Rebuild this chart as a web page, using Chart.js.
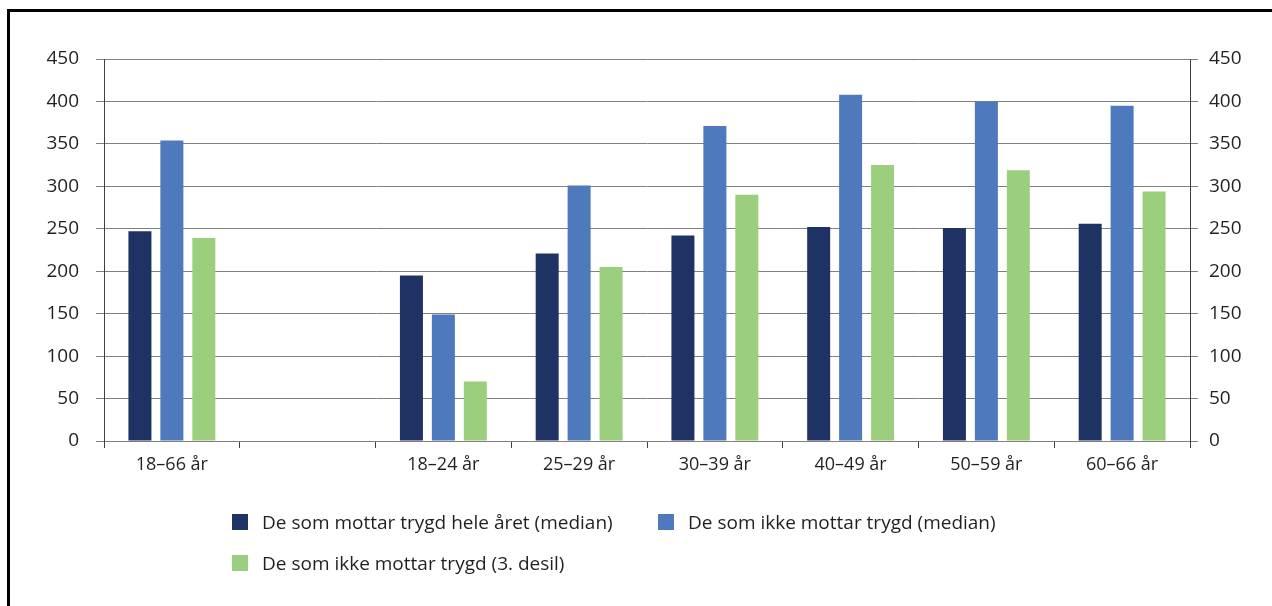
<!DOCTYPE html>
<html>
<head>
<meta charset="utf-8">
<script src="https://cdn.jsdelivr.net/npm/chart.js@4.4.0/dist/chart.umd.min.js"></script>
<style>
  html, body { margin: 0; padding: 0; background: #fff; overflow: hidden; }
  #wrap { position: relative; width: 1272px; height: 606px; }
  #frame { position: absolute; left: 7px; top: 9px; width: 1400px; height: 800px; border-left: 3px solid #000; border-top: 3px solid #000; }
  #chart { position: absolute; left: 0; top: 0; }
  #legend { position: absolute; left: 232px; top: 509px; font-family: "Open Sans", sans-serif; font-size: 19px; color: #231f20; }
  .item { position: absolute; white-space: nowrap; display: flex; align-items: center; }
  .box { width: 16px; height: 16px; margin-right: 14px; }
</style>
</head>
<body>
<div id="wrap">
  <div id="frame"></div>
  <canvas id="chart" width="1272" height="606"></canvas>
  <div id="legend"></div>
</div>
<script>
const kategorier = ["18\u201366 år", "", "18\u201324 år", "25\u201329 år", "30\u201339 år", "40\u201349 år", "50\u201359 år", "60\u201366 år"];
const trygd_median = [247, null, 195, 221, 242, 252, 251, 256];
const ikke_trygd_median = [354, null, 149, 301, 371, 408, 400, 395];
const ikke_trygd_desil = [239, null, 70, 205, 290, 325, 319, 294];
const serier = ["De som mottar trygd hele året (median)", "De som ikke mottar trygd (median)", "De som ikke mottar trygd (3. desil)"];
const farger = ["#1f3264", "#4e79bd", "#9bcf7e"];
const y_ticks = [0, 50, 100, 150, 200, 250, 300, 350, 400, 450];

const ctx = document.getElementById("chart");
const fonte_y = { family: "'Open Sans', sans-serif", size: 19 };
const fonte_x = { family: "'Open Sans', sans-serif", size: 18 };

const datasets = [trygd_median, ikke_trygd_median, ikke_trygd_desil].map((d, i) => ({
  label: serier[i],
  data: d,
  backgroundColor: farger[i],
  borderWidth: 0,
  categoryPercentage: 0.706,
  barPercentage: 0.72,
  yAxisID: "y",
}));

new Chart(ctx, {
  type: "bar",
  data: { labels: kategorier, datasets: datasets },
  options: {
    responsive: false,
    animation: false,
    layout: { padding: { top: 59, left: 0, right: 0, bottom: 0 } },
    plugins: { legend: { display: false }, tooltip: { enabled: false } },
    scales: {
      x: {
        grid: { drawOnChartArea: false, tickLength: 7, color: "#404040", offset: true },
        border: { color: "#808080" },
        ticks: { color: "#231f20", font: fonte_x, padding: 6 },
        afterFit: (s) => { s.height = 165; },
      },
      y: {
        min: 0, max: 450,
        afterBuildTicks: (s) => { s.ticks = y_ticks.map((v) => ({ value: v })); },
        grid: { color: "#808080", tickLength: 8 },
        border: { color: "#404040" },
        ticks: { color: "#231f20", font: fonte_y, padding: 17 },
        afterFit: (s) => { s.width = 104; },
      },
      y2: {
        position: "right",
        min: 0, max: 450,
        afterBuildTicks: (s) => { s.ticks = y_ticks.map((v) => ({ value: v })); },
        grid: { drawOnChartArea: false, color: "#808080", tickLength: 8 },
        border: { color: "#404040" },
        ticks: { color: "#231f20", font: fonte_y, padding: 11 },
        afterFit: (s) => { s.width = 82; },
      },
    },
  },
});

// legend
const pos = [[0, 0], [426, 0], [0, 41]];
const leg = document.getElementById("legend");
serier.forEach((navn, i) => {
  const el = document.createElement("div");
  el.className = "item";
  el.style.left = pos[i][0] + "px";
  el.style.top = pos[i][1] + "px";
  el.innerHTML = '<div class="box" style="background:' + farger[i] + '"></div><span>' + navn + "</span>";
  leg.appendChild(el);
});
</script>
</body>
</html>
